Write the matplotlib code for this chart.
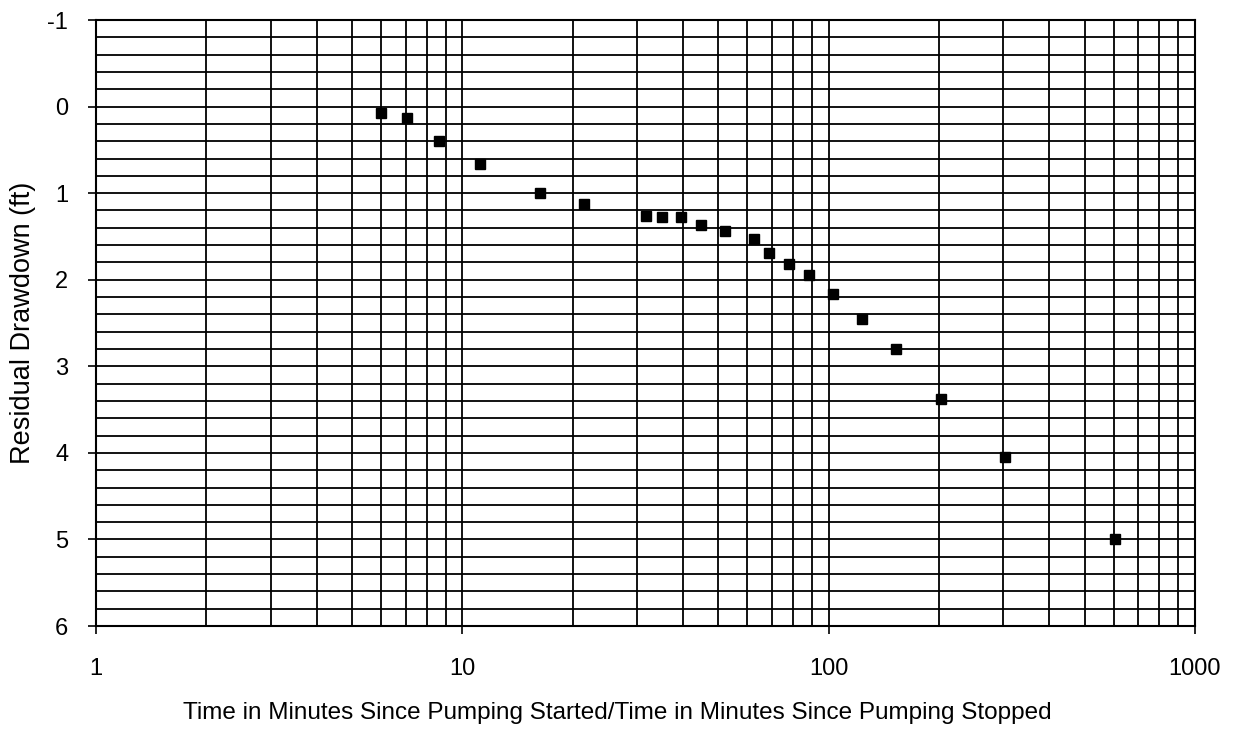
import matplotlib
matplotlib.use("Agg")
from matplotlib import pyplot as plt
from matplotlib.ticker import LogLocator, MultipleLocator, FixedLocator, NullFormatter
import numpy as np

# time ratio t/t' (minutes) and residual drawdown (ft)
time_ratio = [6.0, 7.06, 8.64, 11.2, 16.3, 21.5, 31.7, 35.1, 39.5, 44.9, 52.2,
              62.5, 68.7, 78.0, 88.4, 102.8, 123.4, 152.7, 202.8, 303.0, 605.0]
residual_dd = [0.07, 0.13, 0.40, 0.66, 1.00, 1.13, 1.26, 1.28, 1.28, 1.37, 1.44,
               1.53, 1.69, 1.82, 1.94, 2.16, 2.45, 2.80, 3.38, 4.05, 5.00]

x_ticks = [1, 10, 100, 1000]
x_ticklabels = ["1", "10", "100", "1000"]
y_ticks = [-1, 0, 1, 2, 3, 4, 5, 6]

plt.rcParams['font.family'] = ['Liberation Sans', 'DejaVu Sans']
plt.rcParams['axes.unicode_minus'] = False

fig = plt.figure(figsize=(12.35, 7.31), dpi=100)
ax = fig.add_axes([0.0777, 0.1436, 0.8899, 0.829])

ax.plot(time_ratio, residual_dd, 's', color='black', markersize=7.3, zorder=3)

ax.set_xscale('log')
ax.set_xlim(1, 1000)
ax.set_ylim(6, -1)

ax.xaxis.set_major_locator(FixedLocator(x_ticks))
ax.set_xticklabels(x_ticklabels)
ax.xaxis.set_minor_locator(LogLocator(base=10, subs=np.arange(2, 10)))
ax.xaxis.set_minor_formatter(NullFormatter())
ax.yaxis.set_major_locator(FixedLocator(y_ticks))
ax.yaxis.set_minor_locator(MultipleLocator(0.2))

ax.grid(which='both', color='black', linewidth=1.3)
ax.set_axisbelow(True)

ax.tick_params(which='major', direction='out', length=6, width=1.2, labelsize=17, colors='black')
ax.tick_params(axis='x', which='major', pad=17)
ax.tick_params(axis='y', which='major', pad=14)
ax.tick_params(which='minor', length=0)

for s in ax.spines.values():
    s.set_linewidth(1.5)
    s.set_color('black')

ax.set_xlabel("Time in Minutes Since Pumping Started/Time in Minutes Since Pumping Stopped",
              fontsize=17.5, labelpad=16)
ax.xaxis.label.set_x(0.474)
ax.set_ylabel("Residual Drawdown (ft)", fontsize=19.5, labelpad=8)

fig.savefig("out.png", dpi=100)
